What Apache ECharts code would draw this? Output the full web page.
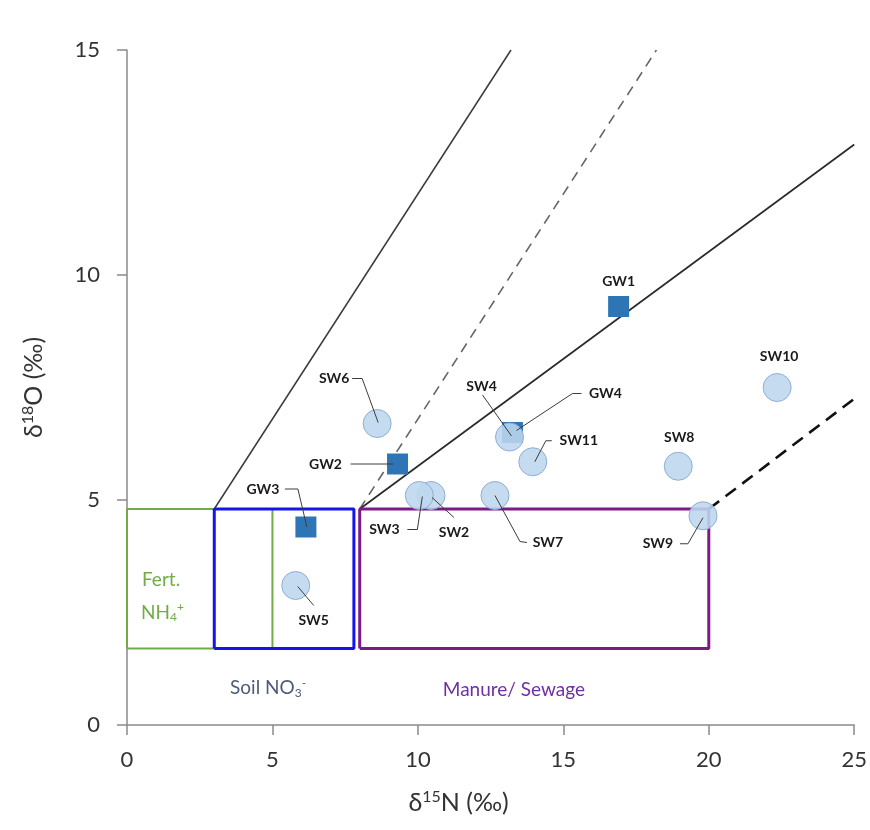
<!DOCTYPE html>
<html><head><meta charset="utf-8">
<script src="https://cdn.jsdelivr.net/npm/echarts/dist/echarts.min.js"></script>
<style>html,body{margin:0;padding:0;background:#fff}#c{width:870px;height:830px}</style>
</head><body><div id="c"></div>
<script>
// ---- data ----
const xTicks = [0, 5, 10, 15, 20, 25];
const yTicks = [0, 5, 10, 15];
const gwNames = ['GW1', 'GW2', 'GW3', 'GW4'];
const gwN = [16.9, 9.3, 6.15, 13.25];
const gwO = [9.3, 5.8, 4.4, 6.5];
const swNames = ['SW2', 'SW3', 'SW4', 'SW5', 'SW6', 'SW7', 'SW8', 'SW9', 'SW10', 'SW11'];
const swN = [10.45, 10.05, 13.15, 5.8, 8.6, 12.65, 18.95, 19.8, 22.35, 13.95];
const swO = [5.1, 5.1, 6.4, 3.1, 6.7, 5.1, 5.75, 4.65, 7.5, 5.85];
// source boxes [xMin, xMax, yMin, yMax]
const fertBox = [0, 5, 1.7, 4.8];
const soilBox = [3, 7.8, 1.7, 4.8];
const manureBox = [8, 20, 1.7, 4.8];
// reference lines [[x,y],[x,y]]
const mixLine1 = [[3, 4.8], [13.2, 15]];
const mixLine2 = [[8, 4.8], [18.2, 15]];
const denitLine = [[8, 4.8], [25, 12.9]];
const denitLine2 = [[20, 4.8], [25, 7.25]];
// region labels
const regionNames = ['Fert.', 'NH4+', 'Soil NO3-', 'Manure/ Sewage'];
const regionX = [1.17, 1.22, 4.85, 13.3];
const regionY = [3.22, 2.5, 0.82, 0.78];

// ---- layout of point labels (pixel offsets from the mark) ----
const labelLayout = {
  GW1: {t: [0, -25]},
  GW2: {t: [-72, 0], p: [[-47, 0], [-4, 0]]},
  GW3: {t: [-43, -38], p: [[-21, -38], [-8, -38], [1, 0]]},
  GW4: {t: [93, -39], p: [[69, -39], [60, -39], [4, -2]]},
  SW2: {t: [23, 37], p: [[23, 22], [1, 2]]},
  SW3: {t: [-35, 34], p: [[-12, 34], [-2, 34], [3, 1]]},
  SW4: {t: [-28, -51], p: [[-27, -42], [2, -1]]},
  SW5: {t: [18, 35], p: [[18, 20], [2, 1]]},
  SW6: {t: [-43, -45], p: [[-25, -45], [-15, -45], [1, -1]]},
  SW7: {t: [53, 47], p: [[32, 47], [25, 46], [0, 0]]},
  SW8: {t: [1, -29]},
  SW9: {t: [-45, 28], p: [[-23, 28], [-15, 28], [0, 2]]},
  SW10: {t: [2, -31]},
  SW11: {t: [46, -21], p: [[19, -21], [13, -21], [2, 0]]}
};

const FONT = 'Lato, "Open Sans", sans-serif';
const chart = echarts.init(document.getElementById('c'), null, {renderer: 'canvas'});

function rectPath(b) { return [[b[0], b[2]], [b[1], b[2]], [b[1], b[3]], [b[0], b[3]], [b[0], b[2]]]; }
function lineSeries(data, color, width, type, z) {
  return {type: 'line', data: data, symbol: 'none', silent: true, animation: false, z: z,
    lineStyle: {color: color, width: width, type: type}};
}

const allNames = gwNames.concat(swNames);
const allN = gwN.concat(swN);
const allO = gwO.concat(swO);
const labelData = allNames.map((n, i) => [allN[i], allO[i], i]);

const GREEN = '#70AD47', SLATE = '#4f5b7a', PURPLE = '#7030A0';
const regionRich = {
  g: {fontSize: 19, fill: GREEN, fontFamily: FONT},
  gs: {fontSize: 12, fill: GREEN, fontFamily: FONT, padding: [10, 0, 0, 0]},
  gp: {fontSize: 12, fill: GREEN, fontFamily: FONT, padding: [0, 0, 10, 0]},
  s: {fontSize: 19, fill: SLATE, fontFamily: FONT},
  ss: {fontSize: 12, fill: SLATE, fontFamily: FONT, padding: [10, 0, 0, 0]},
  sp: {fontSize: 12, fill: SLATE, fontFamily: FONT, padding: [0, 0, 10, 0]},
  m: {fontSize: 19, fill: PURPLE, fontFamily: FONT}
};
const regionText = ['{g|Fert.}', '{g|NH}{gs|4}{gp|+}', '{s|Soil NO}{ss|3}{sp|-}', '{m|Manure/ Sewage}'];
const regionData = regionNames.map((n, i) => [regionX[i], regionY[i], i]);

const option = {
  backgroundColor: '#fff',
  animation: false,
  grid: {left: 127, right: 15, top: 50, bottom: 105},
  xAxis: {
    type: 'value', min: xTicks[0], max: xTicks[xTicks.length - 1], interval: 5,
    name: 'δ{sup|15}N (‰)', nameLocation: 'middle', nameGap: 64,
    nameTextStyle: {fontSize: 25, color: '#333', fontFamily: FONT, padding: [0, 64, 0, 0],
      rich: {sup: {fontSize: 16, color: '#333', fontFamily: FONT, padding: [0, 0, 11, 0]}}},
    axisLine: {show: true, lineStyle: {color: '#8a8a8a', width: 1.5}},
    axisTick: {show: true, length: 10, lineStyle: {color: '#8a8a8a', width: 1.5}},
    axisLabel: {fontSize: 22, color: '#333', fontFamily: FONT, margin: 24},
    splitLine: {show: false}
  },
  yAxis: {
    type: 'value', min: yTicks[0], max: yTicks[yTicks.length - 1], interval: 5,
    name: 'δ{sup|18}O (‰)', nameLocation: 'middle', nameGap: 80, nameRotate: 90,
    nameTextStyle: {fontSize: 25, color: '#333', fontFamily: FONT,
      rich: {sup: {fontSize: 16, color: '#333', fontFamily: FONT, padding: [0, 0, 11, 0]}}},
    axisLine: {show: true, lineStyle: {color: '#8a8a8a', width: 1.5}},
    axisTick: {show: true, length: 10, lineStyle: {color: '#8a8a8a', width: 1.5}},
    axisLabel: {fontSize: 22, color: '#333', fontFamily: FONT, margin: 27},
    splitLine: {show: false}
  },
  series: [
    lineSeries(mixLine1, '#3a3a3a', 1.5, 'solid', 1),
    lineSeries(mixLine2, '#666', 1.6, [10, 7], 1),
    lineSeries(denitLine, '#2a2a2a', 1.7, 'solid', 1),
    lineSeries(denitLine2, '#111', 2.6, [13, 8], 1),
    lineSeries(rectPath(fertBox), GREEN, 2, 'solid', 2),
    lineSeries(rectPath(soilBox), '#1414f0', 3, 'solid', 2),
    lineSeries(rectPath(manureBox), '#7d1a88', 3, 'solid', 2),
    {
      type: 'scatter', name: 'GW', z: 3, symbol: 'rect', symbolSize: 21,
      data: gwN.map((v, i) => [v, gwO[i]]),
      itemStyle: {color: '#2E75B6', opacity: 1}
    },
    {
      type: 'scatter', name: 'SW', z: 4, symbol: 'circle', symbolSize: 28,
      data: swN.map((v, i) => [v, swO[i]]),
      itemStyle: {color: 'rgba(189,215,238,0.88)', borderColor: '#8faed6', borderWidth: 1, opacity: 1}
    },
    {
      type: 'custom', z: 6, silent: true, data: labelData,
      renderItem: function (params, api) {
        const i = api.value(2);
        const name = allNames[i];
        const c = api.coord([api.value(0), api.value(1)]);
        const L = labelLayout[name];
        const children = [];
        if (L.p) {
          children.push({type: 'polyline', shape: {points: L.p.map(q => [c[0] + q[0], c[1] + q[1]])},
            style: {stroke: '#3c3c3c', lineWidth: 1, fill: null}});
        }
        children.push({type: 'text', x: c[0] + L.t[0], y: c[1] + L.t[1],
          style: {text: name, fill: '#1a1a1a', font: 'bold 14px ' + FONT, align: 'center', verticalAlign: 'middle'}});
        return {type: 'group', children: children};
      }
    },
    {
      type: 'custom', z: 6, silent: true, data: regionData,
      renderItem: function (params, api) {
        const i = api.value(2);
        const c = api.coord([api.value(0), api.value(1)]);
        return {type: 'text', x: c[0], y: c[1],
          style: {text: regionText[i], rich: regionRich, align: 'center', verticalAlign: 'middle'}};
      }
    }
  ]
};
chart.setOption(option);
</script>
</body></html>
